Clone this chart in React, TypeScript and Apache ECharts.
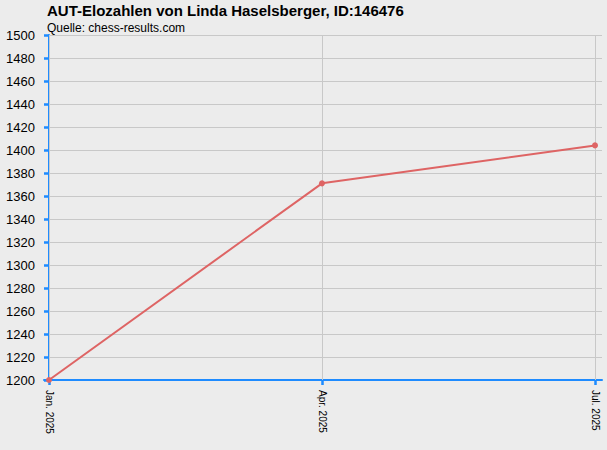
import React, { useEffect, useRef } from "react";
import * as echarts from "echarts";

const categories = ["Jan. 2025", "Apr. 2025", "Jul. 2025"];
const elo = [1200, 1371, 1404];
const yMin = 1200;
const yMax = 1500;

const App: React.FC = () => {
    const chartRef = useRef<HTMLDivElement>(null);

    useEffect(() => {
        document.body.style.margin = "0";
        if (!chartRef.current) return;
        const chart = echarts.init(chartRef.current, null, { renderer: "svg" });

        const blue = "#1E8BFF";
        const options = {
            animation: false,
            backgroundColor: "#ECECEC",
            title: {
                text: "AUT-Elozahlen von Linda Haselsberger, ID:146476",
                subtext: "Quelle: chess-results.com",
                left: 42,
                top: -2,
                itemGap: 4,
                textStyle: {
                    fontFamily: "Liberation Sans, Arial, sans-serif",
                    fontSize: 15,
                    fontWeight: "bold",
                    color: "#000",
                },
                subtextStyle: {
                    fontFamily: "Liberation Sans, Arial, sans-serif",
                    fontSize: 12,
                    color: "#000",
                },
            },
            grid: {
                left: 44,
                right: 5,
                top: 35,
                bottom: 70,
            },
            xAxis: {
                type: "value",
                min: -5 / 273,
                max: 553 / 273,
                axisLine: { lineStyle: { color: blue, width: 2 } },
                axisTick: {
                    customValues: [0, 1, 2],
                    length: 5,
                    lineStyle: { color: blue, width: 2.5 },
                },
                axisLabel: {
                    customValues: [0, 1, 2],
                    rotate: -90,
                    margin: 10,
                    fontSize: 10,
                    width: 80,
                    overflow: "none",
                    fontFamily: "Liberation Sans, Arial, sans-serif",
                    color: "#000",
                    formatter: (v: number) => categories[Math.round(v)] ?? "",
                },
                splitLine: { show: false },
            },
            yAxis: {
                type: "value",
                min: yMin,
                max: yMax,
                interval: 20,
                axisLine: { show: true, lineStyle: { color: blue, width: 2 } },
                axisTick: {
                    show: true,
                    length: 5,
                    lineStyle: { color: blue, width: 2.5 },
                },
                axisLabel: {
                    margin: 9,
                    fontSize: 13,
                    fontFamily: "Liberation Sans, Arial, sans-serif",
                    color: "#000",
                    formatter: (v: number) => String(v),
                },
                splitLine: { lineStyle: { color: "#C8C8C8", width: 1 } },
            },
            series: [
                {
                    type: "line",
                    data: elo.map((v, i) => [i, v]),
                    symbol: "circle",
                    symbolSize: 6,
                    lineStyle: { color: "#DE6464", width: 2 },
                    itemStyle: { color: "#DE6464" },
                    markLine: {
                        silent: true,
                        symbol: "none",
                        label: { show: false },
                        lineStyle: { color: "#C8C8C8", width: 1, type: "solid" },
                        data: categories.map((_, i) => ({ xAxis: i })),
                        z: 1,
                    },
                },
            ],
        };

        chart.setOption(options);
        return () => {
            chart.dispose();
        };
    }, []);

    return <div ref={chartRef} style={{ width: "607px", height: "450px" }} />;
};

export default App;
